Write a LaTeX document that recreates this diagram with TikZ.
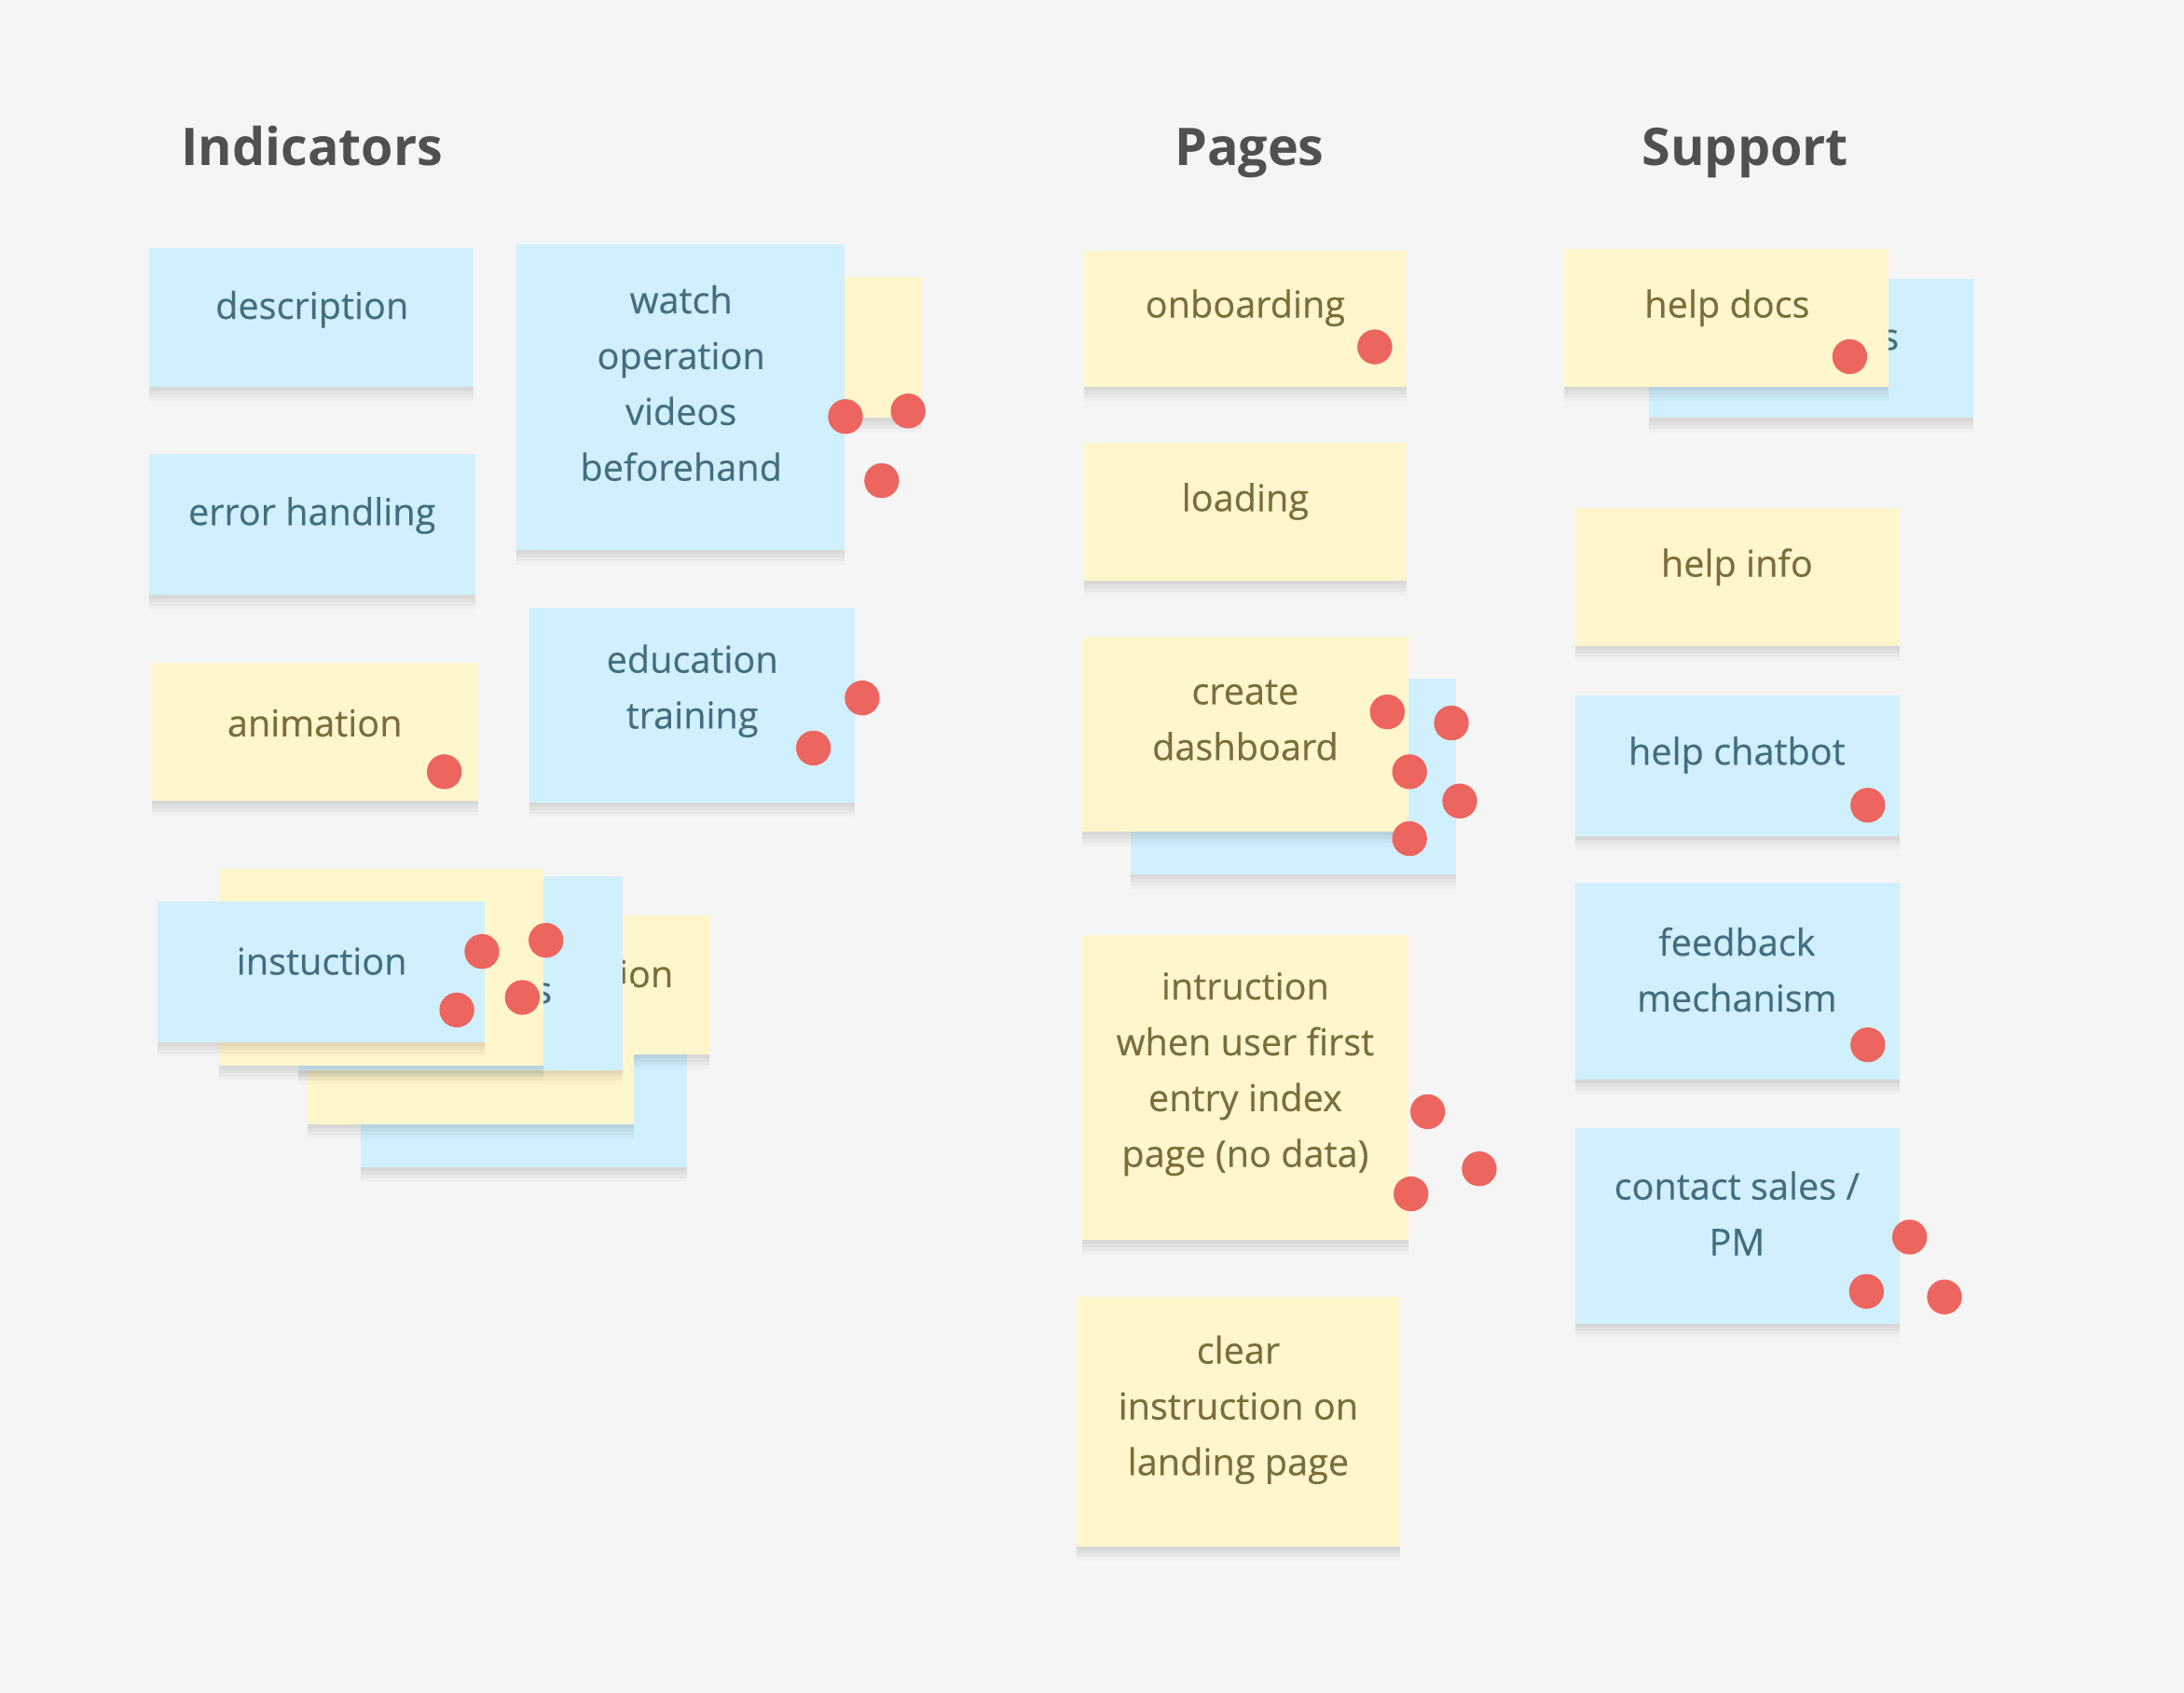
\documentclass[tikz,border=0pt]{standalone}
\usepackage{fontspec}
\setmainfont{Open Sans}
\newfontfamily\notefont{Open Sans}[FakeBold=0.35]
\definecolor{bgfff}{RGB}{245,245,245}
\definecolor{notebl}{RGB}{209,240,253}
\definecolor{noteyl}{RGB}{255,246,204}
\definecolor{txtbl}{RGB}{68,110,128}
\definecolor{txtyl}{RGB}{122,110,60}
\definecolor{dotrd}{RGB}{236,101,95}
\definecolor{ttlgr}{RGB}{80,80,80}

\begin{document}
\begin{tikzpicture}[x=0.02cm,y=-0.02cm,
	sdw/.style={preaction={fill=black,fill opacity=0.03,transform canvas={yshift=-1.5pt}},
		preaction={fill=black,fill opacity=0.03,transform canvas={yshift=-3pt}},
		preaction={fill=black,fill opacity=0.03,transform canvas={yshift=-4.5pt}},
		preaction={fill=black,fill opacity=0.02,transform canvas={yshift=-6pt}}},
	bnote/.style={fill=notebl,sdw},
	ynote/.style={fill=noteyl,sdw},
	btxt/.style={text=txtbl,align=center,font=\notefont\fontsize{15.1}{22.8}\selectfont},
	ytxt/.style={text=txtyl,align=center,font=\notefont\fontsize{15.1}{22.8}\selectfont},
	ttl/.style={text=ttlgr,anchor=base,font=\fontsize{21.2}{26}\selectfont\bfseries},
	vote/.style={fill=dotrd}]
	\fill[bgfff] (0,0) rectangle (1568,1215);
	\useasboundingbox (0,0) rectangle (1568,1215);

	\node[ttl] (indicators) at (224,118.5) {Indicators};
	\node[ttl] (pages) at (897,118.5) {Pages};
	\node[ttl] (support) at (1253,118.5) {Support};

	\fill[bnote] (107,178) rectangle (340,278);
	\node[btxt] (description) at (224,222) {description};
	\fill[bnote] (107,326) rectangle (341,427);
	\node[btxt] (errorhandling) at (224,370) {error handling};
	\fill[ynote] (109,476) rectangle (343,575);
	\node[ytxt] (animation) at (226,519) {animation};
	\fill[vote] (319,554) circle (12.5);

	\fill[ynote] (440,199) rectangle (662,300);
	\fill[bnote] (371,175) rectangle (606,395);
	\node[btxt] (watchvideos) at (489,275) {watch\\operation\\videos\\beforehand};
	\fill[vote] (607,299) circle (12.5);
	\fill[vote] (652,295) circle (12.5);
	\fill[vote] (633,345) circle (12.5);

	\fill[bnote] (380,436) rectangle (614,576);
	\node[btxt] (education) at (497,496) {education\\training};
	\fill[vote] (619,501) circle (12.5);
	\fill[vote] (584,537) circle (12.5);

	\fill[bnote] (259,738) rectangle (493,838);
	\fill[ynote] (275,657) rectangle (509,757);
	\node[ytxt,anchor=west,inner xsep=0pt] (ion) at (444,699) {ion};
	\fill[ynote] (221,706) rectangle (455,807);
	\fill[bnote] (214,629) rectangle (447,768);
	\node[btxt] (s1) at (390,713) {s};
	\fill[ynote] (157,624) rectangle (390,765);
	\fill[bnote] (113,647) rectangle (348,748);
	\node[btxt] (instuction) at (231,690) {instuction};
	\fill[vote] (346,683) circle (12.5);
	\fill[vote] (392,675) circle (12.5);
	\fill[vote] (328,725) circle (12.5);
	\fill[vote] (375,716) circle (12.5);

	\fill[ynote] (778,180) rectangle (1010,278);
	\node[ytxt] (onboarding) at (894,221) {onboarding};
	\fill[vote] (987,249) circle (12.5);
	\fill[ynote] (778,318) rectangle (1010,417);
	\node[ytxt] (loading) at (894,360) {loading};

	\fill[bnote] (812,487) rectangle (1045,628);
	\fill[ynote] (777,457) rectangle (1011,597);
	\node[ytxt] (dashboard) at (894,517) {create\\dashboard};
	\fill[vote] (996,511) circle (12.5);
	\fill[vote] (1042,519) circle (12.5);
	\fill[vote] (1012,554) circle (12.5);
	\fill[vote] (1048,575) circle (12.5);
	\fill[vote] (1012,602) circle (12.5);

	\fill[ynote] (777,671) rectangle (1011,890);
	\node[ytxt] (firstentry) at (894,771) {intruction\\when user first\\entry index\\page (no data)};
	\fill[vote] (1025,798) circle (12.5);
	\fill[vote] (1062,839) circle (12.5);
	\fill[vote] (1013,857) circle (12.5);

	\fill[ynote] (773,931) rectangle (1005,1110);
	\node[ytxt] (landing) at (889,1012) {clear\\instruction on\\landing page};

	\fill[bnote] (1184,200) rectangle (1417,300);
	\node[btxt] (s2) at (1357,244) {s};
	\fill[ynote] (1123,179) rectangle (1356,278);
	\node[ytxt] (helpdocs) at (1240,221) {help docs};
	\fill[vote] (1328,256) circle (12.5);

	\fill[ynote] (1131,365) rectangle (1364,464);
	\node[ytxt] (helpinfo) at (1247,407) {help info};

	\fill[bnote] (1131,499) rectangle (1364,600);
	\node[btxt] (chatbot) at (1247,542) {help chatbot};
	\fill[vote] (1341,578) circle (12.5);

	\fill[bnote] (1131,634) rectangle (1364,775);
	\node[btxt] (feedback) at (1247,696) {feedback\\mechanism};
	\fill[vote] (1341,750) circle (12.5);

	\fill[bnote] (1131,810) rectangle (1364,950);
	\node[btxt] (contact) at (1247,871) {contact sales /\\PM};
	\fill[vote] (1371,888) circle (12.5);
	\fill[vote] (1340,927) circle (12.5);
	\fill[vote] (1396,931) circle (12.5);
\end{tikzpicture}
\end{document}
